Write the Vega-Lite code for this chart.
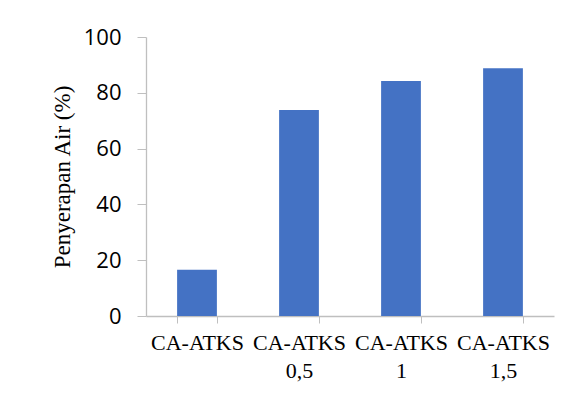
{
  "$schema": "https://vega.github.io/schema/vega-lite/v6.json",
  "width": 408,
  "height": 279,
  "autosize": {"type": "none"},
  "padding": {"left": 146, "top": 37, "right": 24, "bottom": 82},
  "background": "white",
  "config": {"view": {"stroke": null}},
  "data": {
    "values": [
      {"sampel": "CA-ATKS", "penyerapan": 16.6},
      {"sampel": "CA-ATKS 0,5", "penyerapan": 73.8},
      {"sampel": "CA-ATKS 1", "penyerapan": 84.2},
      {"sampel": "CA-ATKS 1,5", "penyerapan": 88.8}
    ]
  },
  "mark": {"type": "bar", "color": "#4472C4"},
  "encoding": {
    "x": {
      "field": "sampel",
      "type": "nominal",
      "sort": null,
      "scale": {"paddingInner": 0.61, "paddingOuter": 0.305},
      "axis": {
        "title": null,
        "labelAngle": 0,
        "labelExpr": "split(datum.label, ' ')",
        "labelFont": "Liberation Serif",
        "labelFontSize": 22,
        "labelColor": "#000000",
        "labelLineHeight": 28,
        "labelPadding": 9,
        "tickBand": "extent",
        "tickSize": 7,
        "tickColor": "#bfbfbf",
        "domainColor": "#bfbfbf",
        "domainWidth": 1.3,
        "grid": false
      }
    },
    "y": {
      "field": "penyerapan",
      "type": "quantitative",
      "scale": {"domain": [0, 100], "nice": false},
      "axis": {
        "title": "Penyerapan Air (%)",
        "titleFont": "Liberation Serif",
        "titleFontSize": 23,
        "titleFontWeight": "normal",
        "titleColor": "#000000",
        "titlePadding": 9,
        "values": [0, 20, 40, 60, 80, 100],
        "labelFont": "Open Sans",
        "labelFontSize": 22,
        "labelColor": "#000000",
        "labelPadding": 16,
        "tickSize": 9,
        "tickColor": "#bfbfbf",
        "domainColor": "#bfbfbf",
        "domainWidth": 1.3,
        "grid": false
      }
    }
  }
}
